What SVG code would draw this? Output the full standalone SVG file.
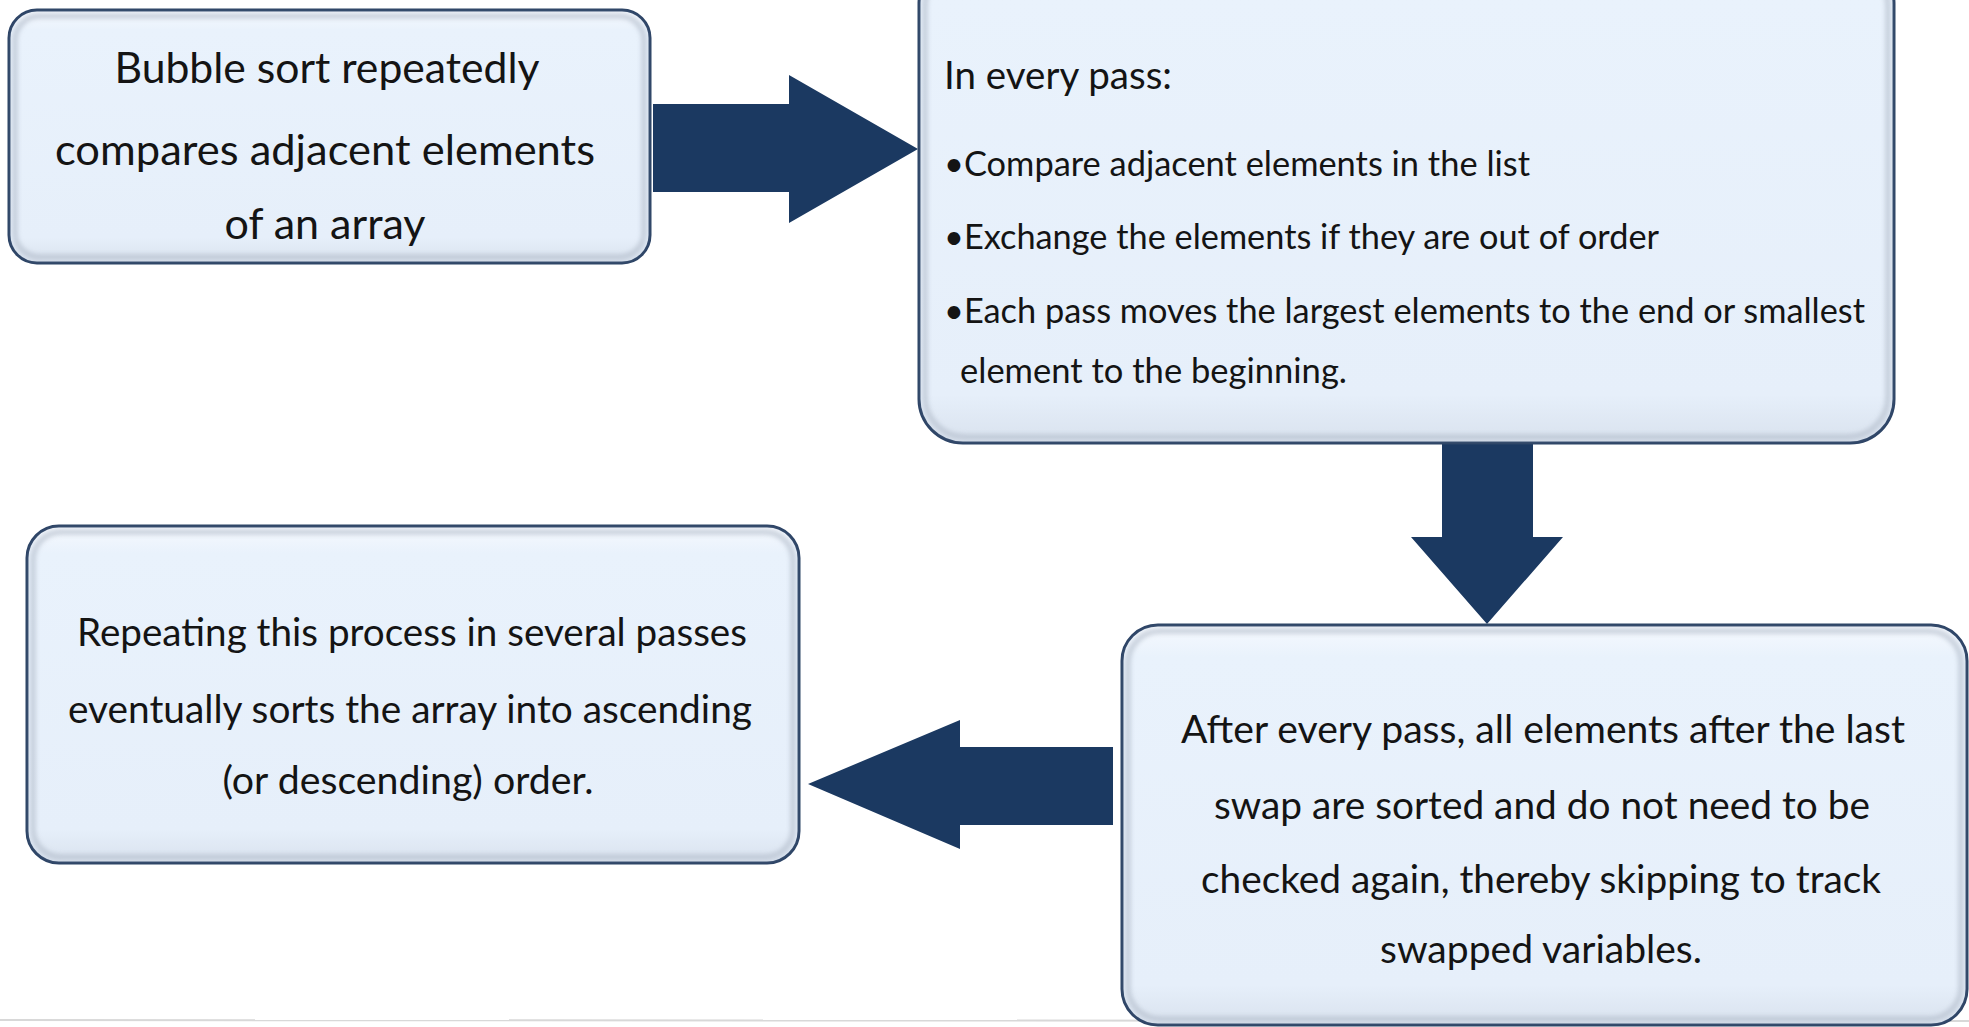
<svg xmlns="http://www.w3.org/2000/svg" width="1969" height="1027" viewBox="0 0 1969 1027">
  <defs>
    <linearGradient id="boxFill" x1="0" y1="0" x2="0" y2="1">
      <stop offset="0" stop-color="#f6f9fe"/>
      <stop offset="0.08" stop-color="#e9f2fc"/>
      <stop offset="0.9" stop-color="#e6effa"/>
      <stop offset="1" stop-color="#d9e2ee"/>
    </linearGradient>
    <filter id="soft" x="-5%" y="-5%" width="110%" height="110%">
      <feGaussianBlur stdDeviation="2.2"/>
    </filter>
    <style>
      .box { fill: url(#boxFill); stroke: #2d4466; stroke-width: 3; }
      .bevel { fill: none; stroke: #aeb8c6; stroke-width: 6; opacity: 0.55; filter: url(#soft); }
      .arrow { fill: #1b3961; }
      .t { font-family: Lato, "Liberation Sans", sans-serif; fill: #141414; }
      .big { font-size: 42px; }
      .mid { font-size: 38px; }
      .small { font-size: 34px; }
    </style>
  </defs>

  <rect width="1969" height="1027" fill="#ffffff"/>
  <!-- faint page edge along the bottom -->
  <line x1="0" y1="1020" x2="1969" y2="1021" stroke="#d8d8d8" stroke-width="2"/>

  <!-- connectors -->
  <g id="connectors">
    <polygon class="arrow" points="653,104 789,104 789,75 918,149 789,223 789,192 653,192"/>
    <polygon class="arrow" points="1442,443 1533,443 1533,537 1563,537 1487,624 1411,537 1442,537"/>
    <polygon class="arrow" points="1113,747 960,747 960,720 808,784 960,849 960,825 1113,825"/>
  </g>

  <!-- step 1 -->
  <g id="node-compare">
    <rect class="box" x="9" y="10" width="641" height="253" rx="28"/>
    <rect class="bevel" x="15" y="16" width="629" height="241" rx="24"/>
    <text class="t big" x="327" y="83" text-anchor="middle" textLength="425" lengthAdjust="spacingAndGlyphs">Bubble sort repeatedly</text>
    <text class="t big" x="325" y="165" text-anchor="middle" textLength="540" lengthAdjust="spacingAndGlyphs">compares adjacent elements</text>
    <text class="t big" x="325" y="239" text-anchor="middle" textLength="201" lengthAdjust="spacingAndGlyphs">of an array</text>
  </g>

  <!-- step 2 -->
  <g id="node-pass">
    <rect class="box" x="919" y="-40" width="975" height="483" rx="44"/>
    <rect class="bevel" x="925" y="-34" width="963" height="471" rx="40"/>
    <text class="t mid" x="944" y="89" textLength="228" lengthAdjust="spacingAndGlyphs">In every pass:</text>
    <text class="t small" x="944" y="176" textLength="586" lengthAdjust="spacingAndGlyphs">•Compare adjacent elements in the list</text>
    <text class="t small" x="944" y="249" textLength="715" lengthAdjust="spacingAndGlyphs">•Exchange the elements if they are out of order</text>
    <text class="t small" x="944" y="323" textLength="921" lengthAdjust="spacingAndGlyphs">•Each pass moves the largest elements to the end or smallest</text>
    <text class="t small" x="960" y="383" textLength="387" lengthAdjust="spacingAndGlyphs">element to the beginning.</text>
  </g>

  <!-- step 3 -->
  <g id="node-after-pass">
    <rect class="box" x="1122" y="625" width="845" height="400" rx="36"/>
    <rect class="bevel" x="1128" y="631" width="833" height="388" rx="32"/>
    <text class="t mid" x="1543" y="743" text-anchor="middle" textLength="724" lengthAdjust="spacingAndGlyphs">After every pass, all elements after the last</text>
    <text class="t mid" x="1542" y="819" text-anchor="middle" textLength="656" lengthAdjust="spacingAndGlyphs">swap are sorted and do not need to be</text>
    <text class="t mid" x="1541" y="893" text-anchor="middle" textLength="680" lengthAdjust="spacingAndGlyphs">checked again, thereby skipping to track</text>
    <text class="t mid" x="1541" y="963" text-anchor="middle" textLength="322" lengthAdjust="spacingAndGlyphs">swapped variables.</text>
  </g>

  <!-- step 4 -->
  <g id="node-repeat">
    <rect class="box" x="27" y="526" width="772" height="337" rx="32"/>
    <rect class="bevel" x="33" y="532" width="760" height="325" rx="28"/>
    <text class="t mid" x="412" y="646" text-anchor="middle" textLength="670" lengthAdjust="spacingAndGlyphs">Repeating this process in several passes</text>
    <text class="t mid" x="410" y="723" text-anchor="middle" textLength="684" lengthAdjust="spacingAndGlyphs">eventually sorts the array into ascending</text>
    <text class="t mid" x="408" y="794" text-anchor="middle" textLength="371" lengthAdjust="spacingAndGlyphs">(or descending) order.</text>
  </g>
</svg>
